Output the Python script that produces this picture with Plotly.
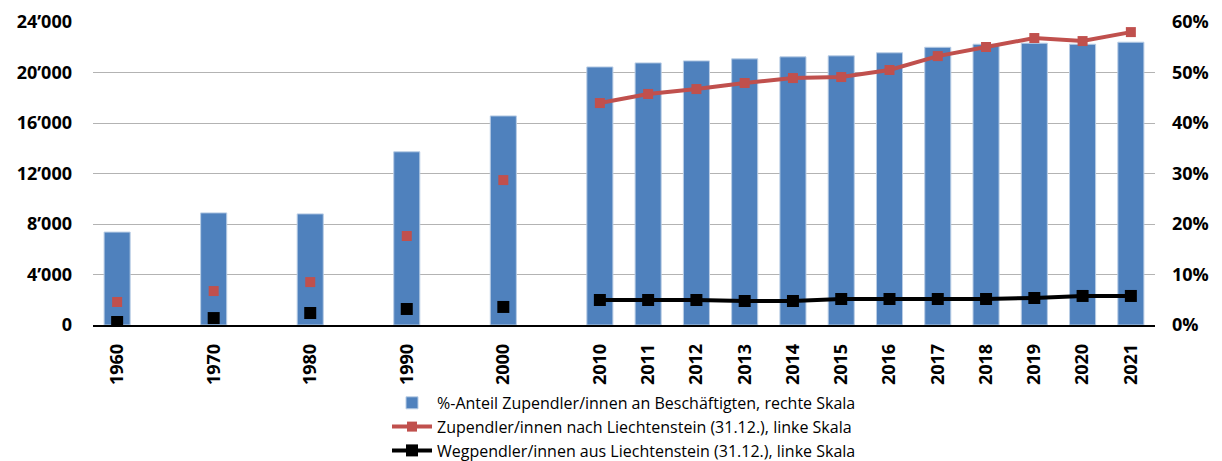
import plotly.graph_objects as go

years = [1960, 1970, 1980, 1990, 2000, 2010, 2011, 2012, 2013, 2014, 2015,
         2016, 2017, 2018, 2019, 2020, 2021]
anteil = [18.4, 22.2, 22.0, 34.3, 41.4, 51.1, 51.9, 52.3, 52.7, 53.1, 53.3,
          53.9, 55.0, 55.6, 55.8, 55.6, 56.0]
zupendler = [1820, 2690, 3400, 7050, 11480, 17580, 18300, 18690, 19170, 19560,
             19640, 20200, 21300, 22020, 22730, 22490, 23200]
wegpendler = [240, 550, 950, 1270, 1430, 1980, 1980, 1980, 1900, 1900, 2060,
              2060, 2060, 2060, 2140, 2300, 2300]
y_left_ticks = [0, 4000, 8000, 12000, 16000, 20000, 24000]
y_right_ticks = [0, 10, 20, 30, 40, 50, 60]

# slot positions: decades take two slots, yearly values one slot
def slot(y):
    return (y - 1960) // 5 if y <= 2010 else 10 + (y - 2010)

slots = [slot(y) for y in years]
all_slots = list(range(0, 22))
pos_map = dict(zip(slots, range(len(years))))

def with_gaps(vals):
    return [vals[pos_map[s]] if s in pos_map else None for s in all_slots]

font = "Open Sans"
fig = go.Figure()
fig.add_trace(go.Bar(
    x=slots, y=anteil, yaxis="y", width=0.54,
    marker=dict(color="#4F81BD", line=dict(color="#B9CDE5", width=1)),
    name="%-Anteil Zupendler/innen an Beschäftigten, rechte Skala"))
fig.add_trace(go.Scatter(
    x=all_slots, y=with_gaps(zupendler), mode="lines+markers", yaxis="y2",
    line=dict(color="#C0504D", width=4),
    marker=dict(symbol="square", size=10, color="#C0504D"),
    connectgaps=False,
    name="Zupendler/innen nach Liechtenstein (31.12.), linke Skala"))
fig.add_trace(go.Scatter(
    x=all_slots, y=with_gaps(wegpendler), mode="lines+markers", yaxis="y2",
    line=dict(color="#000000", width=4),
    marker=dict(symbol="square", size=12, color="#000000"),
    connectgaps=False,
    name="Wegpendler/innen aus Liechtenstein (31.12.), linke Skala"))

# page has an 8px body margin, so the figure is offset by 8px
fig.update_layout(
    width=1214, height=453,
    margin=dict(l=85, r=67, t=14, b=136, autoexpand=False),
    paper_bgcolor="white", plot_bgcolor="white",
    font=dict(family=font, size=18, color="black"),
    showlegend=True,
    legend=dict(orientation="v", x=0.5, xanchor="center",
                y=-0.201, yanchor="top", bgcolor="rgba(0,0,0,0)",
                font=dict(size=16, family=font), tracegroupgap=0,
                itemwidth=40, traceorder="normal"),
    xaxis=dict(range=[-0.5, 21.5], tickmode="array", tickvals=slots,
               ticktext=[f"<b>{y}</b>" for y in years], tickangle=-90,
               tickfont=dict(size=18), showgrid=False, showline=True,
               linecolor="black", linewidth=1.5, ticks="", zeroline=False,
               ticklabelstandoff=10, automargin=False),
    yaxis=dict(range=[0, 60], side="right", tickmode="array",
               tickvals=y_right_ticks,
               ticktext=[f"<b>{v}%</b>" for v in y_right_ticks],
               showgrid=True, gridcolor="#B3B3B3", gridwidth=1.2, zeroline=False,
               tickfont=dict(size=18), ticks="", ticklabelstandoff=16,
               automargin=False),
    yaxis2=dict(range=[0, 24000], overlaying="y", side="left", tickmode="array",
                tickvals=y_left_ticks,
                ticktext=[f"<b>{v // 1000}’000</b>" if v else "<b>0</b>" for v in y_left_ticks],
                showgrid=False, zeroline=False, tickfont=dict(size=18), ticks="",
                ticklabelstandoff=20, automargin=False),
    bargap=0.46,
)

fig.write_html("out.html")
